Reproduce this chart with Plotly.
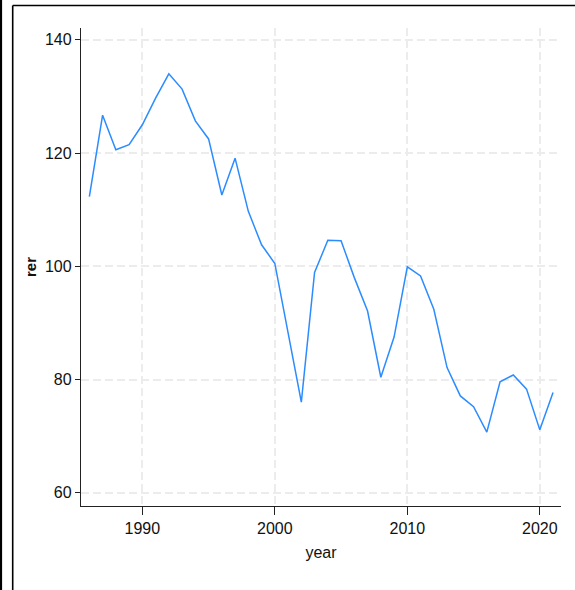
import plotly.graph_objects as go

years = list(range(1986, 2022))
rer = [112.3, 126.7, 120.6, 121.5, 125.0, 129.7, 134.0, 131.3, 125.7, 122.5,
       112.6, 119.1, 109.7, 103.8, 100.5, 88.1, 76.0, 98.9, 104.6, 104.5,
       98.0, 92.1, 80.4, 87.5, 99.9, 98.3, 92.4, 82.1, 77.1, 75.2,
       70.7, 79.6, 80.8, 78.3, 71.1, 77.7]
x_ticks = [1990, 2000, 2010, 2020]
y_ticks = [60, 80, 100, 120, 140]

W, H = 575, 590
L, R, T, B = 81, 14, 28, 84
pw, ph = W - L - R, H - T - B

def px(x):
    return (x - L) / pw

def py(y):
    return (H - B - y) / ph

fig = go.Figure()
fig.add_trace(go.Scatter(x=years, y=rer, mode="lines",
                         line=dict(color="#2B8CFF", width=1.5),
                         showlegend=False))

tickfont = dict(family="Liberation Sans Narrow, Arial Narrow, Liberation Sans, sans-serif",
                size=16, color="#111")

fig.update_layout(
    width=W, height=H,
    margin=dict(l=L, r=R, t=T, b=B),
    paper_bgcolor="white", plot_bgcolor="white",
    xaxis=dict(range=[1985.37, 2021.6], tickvals=x_ticks, ticks="outside",
               ticklen=8, tickwidth=1, tickcolor="#222",
               showline=True, linecolor="#222", linewidth=1.3,
               showgrid=True, gridcolor="#ececec", gridwidth=1.5, griddash="8px,4px",
               zeroline=False, tickfont=tickfont,
               title=dict(text="year", font=tickfont, standoff=10)),
    yaxis=dict(range=[57.65, 142.1], tickvals=y_ticks, ticks="outside",
               ticklen=5, tickwidth=1, tickcolor="#222",
               showline=True, linecolor="#222", linewidth=1.3,
               showgrid=True, gridcolor="#ececec", gridwidth=1.5, griddash="8px,4px",
               zeroline=False, tickfont=tickfont,
               title=dict(text="<b>rer</b>",
                          font=dict(family="Liberation Sans, Arial, sans-serif", size=15, color="#111"),
                          standoff=4)),
)

# outer frame (cropped Stata graph border)
fig.add_shape(type="line", xref="paper", yref="paper",
              x0=px(12.7), x1=px(12.7), y0=py(5.5), y1=py(600),
              line=dict(color="black", width=1.6))
fig.add_shape(type="line", xref="paper", yref="paper",
              x0=px(12.7), x1=px(600), y0=py(5.5), y1=py(5.5),
              line=dict(color="black", width=1.6))
fig.add_shape(type="line", xref="paper", yref="paper",
              x0=px(1), x1=px(1), y0=py(-10), y1=py(600),
              line=dict(color="black", width=2.2))

fig.write_html("out.html", config={"displayModeBar": False},
               post_script="document.body.style.margin='0';document.body.style.overflow='hidden';")
